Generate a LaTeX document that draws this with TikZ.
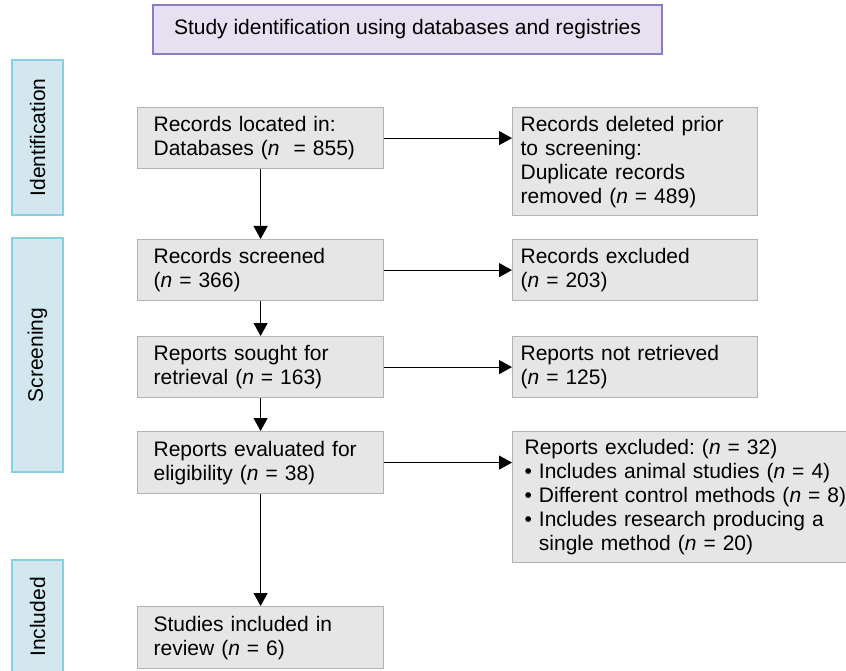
\documentclass[tikz,border=0pt]{standalone}
\usepackage{fontspec}
\setmainfont{Liberation Sans}
\usetikzlibrary{arrows.meta}
\frenchspacing
\definecolor{boxfill}{HTML}{E6E6E6}
\definecolor{boxline}{HTML}{B2B2B2}
\definecolor{titlefill}{HTML}{E6E0F0}
\definecolor{titleline}{HTML}{8C7DBE}
\definecolor{phasefill}{HTML}{D2E7EE}
\definecolor{phaseline}{HTML}{86D0E2}
\tikzset{
  flowbox/.style={draw=boxline, fill=boxfill, line width=1.2pt, anchor=north west,
    align=left, inner ysep=0pt, font=\fontsize{21}{24}\selectfont},
  leftbox/.style={flowbox, inner xsep=16pt, text width=214pt, minimum width=246pt},
  rightbox/.style={flowbox, inner xsep=8pt, text width=229pt, minimum width=245pt},
  phasebox/.style={draw=phaseline, fill=phasefill, line width=1.2pt, rotate=90,
    minimum height=51pt, inner sep=0pt, font=\fontsize{21}{24}\selectfont},
  flowarrow/.style={line width=1.1pt, -{Triangle[length=13pt,width=14pt]}}
}
\begin{document}
\begin{tikzpicture}[x=1pt, y=-1pt]
\useasboundingbox (0,0) rectangle (846,671);
% title and phases
\node[draw=titleline, fill=titlefill, line width=1.2pt, minimum width=509pt, minimum height=49pt,
  font=\fontsize{21}{24}\selectfont] (title) at (407.5,29.5)
  {Study identification using databases and registries};
\node[phasebox, minimum width=155pt] (identification) at (37.5,137.5) {Identification};
\node[phasebox, minimum width=234pt] (screening) at (37.5,355) {Screening};
\node[phasebox, minimum width=114pt] (included) at (37.5,617) {Included};
% main column
\node[leftbox, minimum height=61pt] (located) at (137,107)
  {Records located in:\\Databases (\textit{n}\ \ = 855)};
\node[leftbox, minimum height=61pt] (screened) at (137,239)
  {Records screened\\(\textit{n} = 366)};
\node[leftbox, minimum height=61pt] (sought) at (137,336)
  {Reports sought for\\retrieval (\textit{n} = 163)};
\node[leftbox, minimum height=62pt] (evaluated) at (137,431)
  {Reports evaluated for\\eligibility (\textit{n} = 38)};
\node[leftbox, minimum height=62pt] (review) at (137,606)
  {Studies included in\\review (\textit{n} = 6)};
% side column
\node[rightbox, minimum height=108pt] (deleted) at (512,107)
  {Records deleted prior\\to screening:\\Duplicate records\\removed (\textit{n} = 489)};
\node[rightbox, minimum height=61pt] (excluded) at (512,239)
  {Records excluded\\(\textit{n} = 203)};
\node[rightbox, minimum height=61pt] (notretrieved) at (512,336)
  {Reports not retrieved\\(\textit{n} = 125)};
\node[flowbox, inner xsep=12pt, text width=330pt, minimum height=131pt] (reportsexcl) at (512,431)
  {Reports excluded: (\textit{n} = 32)\\
   \textbullet\ Includes animal studies (\textit{n} = 4)\\
   \textbullet\ Different control methods (\textit{n} = 8)\\
   \textbullet\ Includes research producing a\\
   \phantom{\textbullet\ }single method (\textit{n} = 20)};
% arrows
\draw[flowarrow] (located) -- (screened);
\draw[flowarrow] (screened) -- (sought);
\draw[flowarrow] (sought) -- (evaluated);
\draw[flowarrow] (evaluated) -- (review);
\draw[flowarrow] (located.east) -- (located.east -| deleted.west);
\draw[flowarrow] (screened.east) -- (screened.east -| excluded.west);
\draw[flowarrow] (sought.east) -- (sought.east -| notretrieved.west);
\draw[flowarrow] (evaluated.east) -- (evaluated.east -| reportsexcl.west);
\end{tikzpicture}
\end{document}
